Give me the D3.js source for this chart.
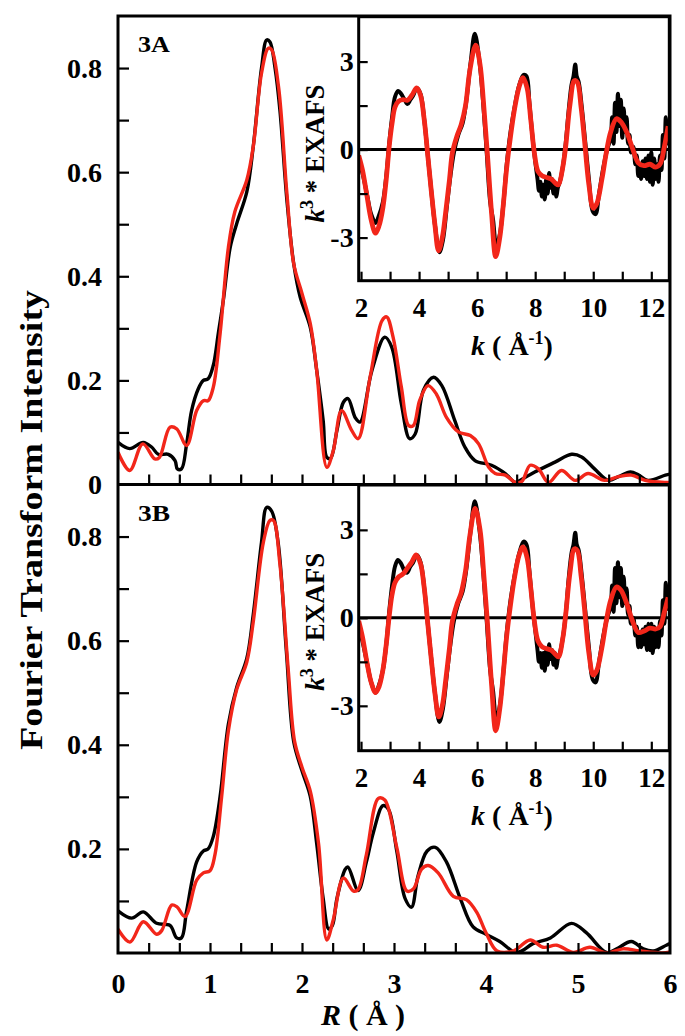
<!DOCTYPE html>
<html><head><meta charset="utf-8">
<script src="https://cdn.jsdelivr.net/npm/d3@7"></script>
<style>
body{margin:0;background:#fff}
</style>
</head><body>
<svg id="c" width="685" height="1036"></svg>
<script>
// ---------- DATA ----------
// Main panels: Fourier transform magnitude vs R (Å)
const ftA_black = [[0,0.081],[0.127,0.069],[0.274,0.081],[0.365,0.072],[0.438,0.058],[0.547,0.058],[0.62,0.046],[0.645,0.03],[0.69,0.03],[0.746,0.078],[0.8,0.142],[0.873,0.184],[0.928,0.2],[0.98,0.203],[1.036,0.229],[1.09,0.29],[1.145,0.354],[1.22,0.456],[1.29,0.501],[1.4,0.562],[1.47,0.649],[1.56,0.8],[1.616,0.854],[1.652,0.85],[1.707,0.8],[1.76,0.719],[1.836,0.546],[1.91,0.424],[1.98,0.36],[2.09,0.302],[2.16,0.219],[2.23,0.123],[2.27,0.052],[2.31,0.05],[2.38,0.104],[2.45,0.158],[2.5,0.165],[2.58,0.128],[2.63,0.12],[2.76,0.219],[2.9,0.283],[2.975,0.264],[3.08,0.155],[3.17,0.088],[3.23,0.097],[3.32,0.181],[3.43,0.206],[3.52,0.19],[3.66,0.123],[3.77,0.072],[3.88,0.046],[4.06,0.037],[4.21,0.021],[4.32,0.004],[4.39,0.01],[4.53,0.024],[4.75,0.043],[4.93,0.058],[5.04,0.053],[5.18,0.03],[5.33,0.008],[5.44,0.015],[5.57,0.024],[5.66,0.018],[5.76,0.008],[5.95,0.018],[6.0,0.02]];
const ftA_red = [[0,0.062],[0.127,0.027],[0.27,0.078],[0.4,0.049],[0.45,0.052],[0.565,0.11],[0.638,0.107],[0.746,0.075],[0.855,0.142],[0.928,0.161],[0.98,0.161],[1.036,0.187],[1.11,0.29],[1.2,0.456],[1.27,0.524],[1.4,0.585],[1.47,0.649],[1.56,0.79],[1.634,0.838],[1.67,0.835],[1.745,0.764],[1.836,0.559],[1.91,0.424],[2.0,0.367],[2.09,0.309],[2.16,0.219],[2.27,0.033],[2.34,0.065],[2.43,0.142],[2.54,0.104],[2.61,0.088],[2.74,0.206],[2.87,0.315],[2.92,0.322],[2.99,0.283],[3.08,0.187],[3.16,0.113],[3.21,0.113],[3.28,0.162],[3.37,0.19],[3.46,0.174],[3.57,0.129],[3.7,0.101],[3.83,0.094],[3.92,0.078],[4.03,0.033],[4.1,0.021],[4.21,0.018],[4.32,0.004],[4.39,0.006],[4.48,0.037],[4.57,0.03],[4.68,0.004],[4.82,0.027],[4.97,0.008],[5.11,0.021],[5.29,0.008],[5.44,0.015],[5.58,0.018],[5.73,0.008],[5.95,0.004],[6.0,0.004]];
const ftB_black = [[0,0.081],[0.148,0.067],[0.275,0.079],[0.42,0.057],[0.565,0.053],[0.638,0.029],[0.69,0.029],[0.746,0.081],[0.855,0.175],[0.928,0.196],[0.98,0.2],[1.036,0.224],[1.11,0.301],[1.2,0.44],[1.29,0.51],[1.4,0.566],[1.47,0.65],[1.56,0.789],[1.616,0.856],[1.67,0.849],[1.74,0.789],[1.83,0.58],[1.91,0.406],[2.0,0.35],[2.09,0.301],[2.16,0.21],[2.23,0.105],[2.29,0.046],[2.33,0.053],[2.38,0.105],[2.47,0.161],[2.5,0.165],[2.61,0.12],[2.7,0.175],[2.775,0.231],[2.88,0.283],[2.94,0.276],[3.03,0.196],[3.12,0.105],[3.19,0.088],[3.26,0.147],[3.36,0.196],[3.45,0.203],[3.57,0.175],[3.72,0.105],[3.86,0.05],[4.0,0.036],[4.15,0.022],[4.32,0.001],[4.39,0.004],[4.51,0.018],[4.7,0.029],[4.93,0.057],[5.09,0.039],[5.31,0.001],[5.42,0.008],[5.58,0.022],[5.71,0.008],[5.82,0.004],[5.96,0.015],[6.0,0.018]];
const ftB_red = [[0,0.046],[0.13,0.021],[0.275,0.06],[0.42,0.036],[0.475,0.043],[0.583,0.092],[0.638,0.089],[0.728,0.07],[0.855,0.14],[0.928,0.154],[1.0,0.158],[1.054,0.189],[1.127,0.301],[1.2,0.427],[1.29,0.506],[1.4,0.559],[1.47,0.636],[1.58,0.789],[1.652,0.831],[1.69,0.831],[1.76,0.747],[1.85,0.545],[1.92,0.406],[2.0,0.357],[2.09,0.311],[2.18,0.21],[2.27,0.025],[2.34,0.064],[2.45,0.144],[2.56,0.119],[2.61,0.122],[2.7,0.189],[2.83,0.297],[2.9,0.294],[3.03,0.203],[3.14,0.119],[3.21,0.123],[3.3,0.161],[3.37,0.168],[3.48,0.154],[3.645,0.109],[3.79,0.102],[3.9,0.078],[4.0,0.039],[4.12,0.004],[4.3,0.004],[4.48,0.025],[4.62,0.011],[4.77,0.015],[4.95,0.001],[5.13,0.011],[5.31,0.0],[5.49,0.008],[5.67,0.004],[5.92,0.0],[6.0,0.002]];

// Insets: k^3-weighted EXAFS vs k (Å^-1)
const exA_black = [[1.92,-0.35],[2.05,-0.8],[2.2,-1.5],[2.35,-2.2],[2.5,-2.5],[2.6,-2.3],[2.75,-1.8],[2.87,-0.9],[2.97,0.2],[3.07,1.1],[3.17,1.8],[3.28,2.0],[3.38,1.9],[3.5,1.7],[3.6,1.55],[3.7,1.7],[3.8,1.85],[3.92,2.1],[4.05,1.9],[4.18,1.0],[4.3,-0.2],[4.42,-1.4],[4.55,-2.6],[4.7,-3.5],[4.82,-3.1],[4.95,-2.0],[5.08,-0.9],[5.2,-0.1],[5.35,0.5],[5.5,0.9],[5.62,1.6],[5.78,3.0],[5.92,3.95],[6.08,3.0],[6.2,1.7],[6.33,-0.1],[6.45,-1.8],[6.55,-2.4],[6.66,-3.3],[6.78,-2.9],[6.9,-1.9],[7.02,-0.5],[7.15,0.6],[7.3,1.5],[7.45,2.2],[7.6,2.55],[7.7,2.5],[7.8,1.6],[7.9,0.5],[8.0,-0.4],[8.08,-1.0],[8.13,-1.4],[8.18,-1.1],[8.23,-1.6],[8.28,-1.2],[8.33,-1.7],[8.38,-1.0],[8.43,-1.5],[8.48,-0.8],[8.53,-1.3],[8.58,-1.0],[8.63,-1.5],[8.68,-1.2],[8.73,-1.6],[8.78,-1.3],[8.85,-1.1],[8.95,-0.6],[9.05,0.2],[9.15,1.3],[9.25,2.2],[9.32,2.5],[9.38,2.9],[9.43,2.5],[9.5,2.3],[9.6,1.5],[9.72,0.3],[9.85,-1.0],[9.98,-2.1],[10.08,-2.2],[10.2,-1.5],[10.35,-0.6],[10.48,0.0],[10.6,0.4],[10.65,1.1],[10.7,0.2],[10.75,1.6],[10.8,0.6],[10.85,1.9],[10.9,0.8],[10.95,1.7],[11.0,0.4],[11.05,1.4],[11.1,0.6],[11.15,1.1],[11.2,0.2],[11.25,0.5],[11.3,-0.1],[11.38,0.1],[11.45,-0.5],[11.5,-0.2],[11.55,-0.9],[11.6,-0.5],[11.65,-1.0],[11.7,-0.4],[11.75,-0.9],[11.8,-0.3],[11.85,-1.0],[11.9,-0.2],[11.95,-1.1],[12.0,-0.1],[12.05,-1.2],[12.1,-0.3],[12.15,-1.0],[12.2,-0.5],[12.25,-1.1],[12.3,-0.2],[12.35,-0.7],[12.4,0.5],[12.45,-0.3],[12.5,1.1],[12.55,0.2],[12.6,0.8]];
const exA_red = [[1.92,-0.2],[2.05,-0.7],[2.2,-1.55],[2.35,-2.4],[2.5,-2.85],[2.62,-2.6],[2.75,-2.0],[2.87,-1.0],[2.97,0.1],[3.07,0.9],[3.17,1.45],[3.3,1.65],[3.45,1.7],[3.6,1.68],[3.75,1.85],[3.92,2.1],[4.05,1.85],[4.18,1.0],[4.3,-0.2],[4.42,-1.4],[4.55,-2.6],[4.67,-3.45],[4.8,-3.0],[4.92,-2.1],[5.05,-1.0],[5.15,-0.1],[5.3,0.45],[5.45,0.85],[5.6,1.5],[5.75,2.7],[5.95,3.56],[6.1,2.9],[6.22,1.6],[6.35,-0.1],[6.5,-2.2],[6.64,-3.65],[6.78,-3.0],[6.9,-1.9],[7.02,-0.6],[7.15,0.45],[7.3,1.45],[7.45,2.15],[7.58,2.45],[7.72,2.1],[7.85,1.0],[7.97,-0.1],[8.1,-0.75],[8.25,-0.9],[8.4,-0.95],[8.55,-1.0],[8.7,-1.15],[8.8,-1.2],[8.95,-0.6],[9.05,0.1],[9.2,1.55],[9.35,2.35],[9.45,2.3],[9.58,1.45],[9.7,0.3],[9.85,-1.2],[10.0,-2.0],[10.12,-1.85],[10.3,-1.0],[10.45,-0.1],[10.6,0.6],[10.8,1.05],[10.95,0.95],[11.15,0.6],[11.35,0.05],[11.55,-0.45],[11.75,-0.55],[11.95,-0.5],[12.15,-0.6],[12.3,-0.5],[12.45,0.1],[12.58,0.8]];
const exB_black = [[1.92,-0.3],[2.05,-0.8],[2.2,-1.5],[2.35,-2.2],[2.5,-2.55],[2.6,-2.35],[2.75,-1.8],[2.87,-0.9],[2.97,0.2],[3.07,1.1],[3.17,1.75],[3.27,1.97],[3.38,1.85],[3.5,1.6],[3.58,1.54],[3.7,1.75],[3.8,1.9],[3.92,2.14],[4.05,1.9],[4.18,1.0],[4.3,-0.2],[4.42,-1.4],[4.55,-2.6],[4.7,-3.55],[4.82,-3.1],[4.95,-2.0],[5.08,-0.9],[5.2,-0.1],[5.35,0.5],[5.5,0.9],[5.62,1.6],[5.78,3.0],[5.92,3.98],[6.08,3.0],[6.2,1.7],[6.33,-0.1],[6.45,-1.8],[6.55,-2.5],[6.66,-3.5],[6.78,-3.0],[6.9,-1.9],[7.02,-0.5],[7.15,0.6],[7.3,1.5],[7.45,2.2],[7.6,2.6],[7.7,2.5],[7.8,1.6],[7.9,0.5],[8.0,-0.4],[8.08,-1.1],[8.13,-1.5],[8.18,-1.2],[8.23,-1.7],[8.28,-1.2],[8.33,-1.8],[8.38,-1.1],[8.43,-1.6],[8.48,-0.9],[8.53,-1.4],[8.58,-1.1],[8.63,-1.6],[8.68,-1.2],[8.73,-1.7],[8.78,-1.4],[8.85,-1.2],[8.95,-0.7],[9.05,0.1],[9.15,1.3],[9.25,2.2],[9.32,2.5],[9.38,2.9],[9.43,2.5],[9.5,2.3],[9.6,1.5],[9.72,0.3],[9.85,-1.0],[9.98,-2.1],[10.08,-2.2],[10.2,-1.5],[10.35,-0.6],[10.48,0.0],[10.6,0.4],[10.65,1.1],[10.7,0.2],[10.75,1.7],[10.8,0.5],[10.85,1.9],[10.9,0.7],[10.95,1.7],[11.0,0.4],[11.05,1.4],[11.1,0.5],[11.15,1.0],[11.2,0.1],[11.25,0.4],[11.3,-0.2],[11.38,0.0],[11.45,-0.6],[11.5,-0.3],[11.55,-1.0],[11.6,-0.5],[11.65,-1.0],[11.7,-0.4],[11.75,-0.9],[11.8,-0.3],[11.85,-1.1],[11.9,-0.2],[11.95,-1.1],[12.0,-0.2],[12.05,-1.2],[12.1,-0.3],[12.15,-1.0],[12.2,-0.4],[12.25,-1.0],[12.3,-0.1],[12.35,-0.6],[12.4,0.6],[12.45,-0.2],[12.5,1.2],[12.55,0.3],[12.6,0.7]];
const exB_red = [[1.92,-0.1],[2.05,-0.65],[2.2,-1.5],[2.35,-2.2],[2.5,-2.55],[2.62,-2.35],[2.75,-1.8],[2.87,-0.9],[2.97,0.05],[3.07,0.8],[3.17,1.2],[3.3,1.4],[3.45,1.5],[3.6,1.7],[3.75,1.9],[3.9,2.15],[4.05,1.85],[4.18,1.0],[4.3,-0.2],[4.42,-1.4],[4.55,-2.6],[4.68,-3.38],[4.8,-3.0],[4.92,-2.1],[5.05,-1.0],[5.15,-0.1],[5.3,0.45],[5.45,0.85],[5.6,1.6],[5.75,2.8],[5.93,3.73],[6.1,3.0],[6.22,1.6],[6.35,-0.1],[6.5,-2.3],[6.64,-3.85],[6.78,-3.1],[6.9,-1.9],[7.02,-0.6],[7.15,0.45],[7.3,1.45],[7.45,2.15],[7.58,2.42],[7.72,2.05],[7.85,1.0],[7.97,-0.1],[8.1,-0.8],[8.25,-1.0],[8.4,-1.05],[8.55,-1.1],[8.7,-1.25],[8.8,-1.33],[8.95,-0.7],[9.05,0.1],[9.2,1.55],[9.35,2.35],[9.45,2.3],[9.58,1.45],[9.7,0.3],[9.85,-1.2],[10.0,-1.95],[10.12,-1.8],[10.3,-1.0],[10.45,-0.1],[10.6,0.6],[10.8,1.05],[10.95,0.95],[11.15,0.5],[11.35,-0.1],[11.55,-0.5],[11.75,-0.45],[11.95,-0.35],[12.15,-0.38],[12.3,-0.3],[12.45,0.2],[12.58,0.7]];

// Tick values / labels
const mainYTicks = [0.1,0.2,0.3,0.4,0.5,0.6,0.7,0.8];
const mainYLabelsA = [0,0.2,0.4,0.6,0.8];
const mainYLabelsB = [0.2,0.4,0.6,0.8];
const mainXTicks = [1,2,3,4,5,6,7,8,9,10,11,12,13,14,15,16,17].map(i => i/3);
const mainXLabels = [0,1,2,3,4,5,6];
const insetYTicks = [-3,-1.5,0,1.5,3];
const insetYLabels = [-3,0,3];
const insetXTicks = [2,3,4,5,6,7,8,9,10,11,12];
const insetXLabels = [2,4,6,8,10,12];
const panelNames = ["3A","3B"];

// ---------- LAYOUT ----------
const FONT = "'Liberation Serif', 'Times New Roman', serif";
const RED = "#f2261a";
const svg = d3.select("#c");
const L = 118, R = 670;
const x = d3.scaleLinear([0,6],[L,R]);
const panels = [
  {top:16, bottom:484.5, ft:[ftA_black, ftA_red], ex:[exA_black, exA_red], yLabels:mainYLabelsA,
   inset:{top:16.7, bottom:280.7, dom:[-4.47,4.53]}},
  {top:484.5, bottom:953, ft:[ftB_black, ftB_red], ex:[exB_black, exB_red], yLabels:mainYLabelsB,
   inset:{top:485, bottom:750.7, dom:[-4.53,4.53]}}
];
const insL = 358.7, insR = 669.3;
const kx = d3.scaleLinear([1.92,12.62],[insL,insR]);

function styleText(sel, size) {
  sel.attr("font-family", FONT).attr("font-weight", "bold").attr("font-size", size).attr("fill", "#000");
  return sel;
}
function cleanAxis(g, size) {
  g.attr("font-family", null).attr("font-size", null);
  g.select(".domain").remove();
  if (size) styleText(g.selectAll("text"), size);
  g.selectAll("line").attr("stroke", "#000").attr("stroke-width", 2.2);
  return g;
}

panels.forEach((p, i) => {
  const y = d3.scaleLinear([0,0.9],[p.bottom,p.top]);
  const cid = "clipm"+i;
  svg.append("clipPath").attr("id",cid).append("rect")
    .attr("x",L).attr("y",p.top).attr("width",R-L).attr("height",p.bottom-p.top);
  const g = svg.append("g").attr("clip-path",`url(#${cid})`);
  const line = d3.line().x(d=>x(d[0])).y(d=>y(d[1])).curve(d3.curveCatmullRom.alpha(0.5));
  g.append("path").datum(p.ft[0]).attr("d",line).attr("fill","none").attr("stroke","#000").attr("stroke-width",3.4).attr("stroke-linejoin","round");
  g.append("path").datum(p.ft[1]).attr("d",line).attr("fill","none").attr("stroke",RED).attr("stroke-width",3.4).attr("stroke-linejoin","round");

  cleanAxis(svg.append("g").attr("transform",`translate(${L},0)`)
    .call(d3.axisLeft(y).tickValues(mainYTicks).tickSizeInner(-11).tickSizeOuter(0).tickFormat("")));
  cleanAxis(svg.append("g").attr("transform",`translate(${L},0)`)
    .call(d3.axisLeft(y).tickValues(p.yLabels).tickSize(0).tickPadding(16).tickFormat(d => d===0 ? "0" : d3.format(".1f")(d))), 28);
  cleanAxis(svg.append("g").attr("transform",`translate(0,${p.bottom})`)
    .call(d3.axisBottom(x).tickValues(mainXTicks).tickSizeInner(-10).tickSizeOuter(0).tickFormat("")));

  styleText(svg.append("text").attr("x",138).attr("y",p.top+36)
    .attr("textLength",32).attr("lengthAdjust","spacingAndGlyphs"), 23).text(panelNames[i]);

  // ---- inset ----
  const I = p.inset;
  const iy = d3.scaleLinear(I.dom,[I.bottom,I.top]);
  svg.append("rect").attr("x",insL).attr("y",I.top).attr("width",insR-insL).attr("height",I.bottom-I.top).attr("fill","#fff");
  const icid = "clipi"+i;
  svg.append("clipPath").attr("id",icid).append("rect")
    .attr("x",insL).attr("y",I.top).attr("width",insR-insL).attr("height",I.bottom-I.top);
  const ig = svg.append("g").attr("clip-path",`url(#${icid})`);
  ig.append("line").attr("x1",insL).attr("x2",insR).attr("y1",iy(0)).attr("y2",iy(0)).attr("stroke","#000").attr("stroke-width",3);
  const iline = d3.line().x(d=>kx(d[0])).y(d=>iy(d[1])).curve(d3.curveCatmullRom.alpha(0.5));
  ig.append("path").datum(p.ex[0]).attr("d",iline).attr("fill","none").attr("stroke","#000").attr("stroke-width",4).attr("stroke-linejoin","round");
  ig.append("path").datum(p.ex[1]).attr("d",iline).attr("fill","none").attr("stroke",RED).attr("stroke-width",4.8).attr("stroke-linejoin","round");
  svg.append("rect").attr("x",insL).attr("y",I.top).attr("width",insR-insL).attr("height",I.bottom-I.top)
    .attr("fill","none").attr("stroke","#000").attr("stroke-width",3);

  cleanAxis(svg.append("g").attr("transform",`translate(${insL},0)`)
    .call(d3.axisLeft(iy).tickValues(insetYTicks).tickSizeInner(-9).tickSizeOuter(0).tickFormat("")));
  cleanAxis(svg.append("g").attr("transform",`translate(${insL},0)`)
    .call(d3.axisLeft(iy).tickValues(insetYLabels).tickSize(0).tickPadding(5).tickFormat(d => String(d))), 28);
  cleanAxis(svg.append("g").attr("transform",`translate(0,${I.bottom})`)
    .call(d3.axisBottom(kx).tickValues(insetXTicks).tickSizeInner(-9).tickSizeOuter(0).tickFormat("")));
  cleanAxis(svg.append("g").attr("transform",`translate(0,${I.bottom})`)
    .call(d3.axisBottom(kx).tickValues(insetXLabels).tickSize(0).tickPadding(17).tickFormat(d => String(d))), 27);

  const kt = styleText(svg.append("text").attr("x",512).attr("y",I.bottom+74).attr("text-anchor","middle"), 28);
  kt.append("tspan").attr("font-style","italic").text("k");
  kt.append("tspan").text(" ( Å");
  kt.append("tspan").attr("font-size",18).attr("dy",-11).text("-1");
  kt.append("tspan").attr("dy",11).text(")");

  const yt = styleText(svg.append("text").attr("transform",`translate(324,${iy(0)+4}) rotate(-90)`).attr("text-anchor","middle"), 27);
  yt.append("tspan").attr("font-style","italic").text("k");
  yt.append("tspan").attr("font-size",18).attr("dy",-11).text("3");
  yt.append("tspan").attr("dy",11).text(" * EXAFS");
});

// Outer frame and divider
svg.append("rect").attr("x",L).attr("y",16).attr("width",R-L).attr("height",953-16)
  .attr("fill","none").attr("stroke","#000").attr("stroke-width",3);
svg.append("line").attr("x1",L).attr("x2",R).attr("y1",484.5).attr("y2",484.5).attr("stroke","#000").attr("stroke-width",3);

cleanAxis(svg.append("g").attr("transform",`translate(0,953)`)
  .call(d3.axisBottom(x).tickValues(mainXLabels).tickSize(0).tickPadding(20).tickFormat(d => String(d))), 28);

const xt = styleText(svg.append("text").attr("x",363).attr("y",1025).attr("text-anchor","middle"), 30);
xt.append("tspan").attr("font-style","italic").text("R");
xt.append("tspan").text(" ( Å )");

styleText(svg.append("text").attr("transform","translate(42,520) rotate(-90)").attr("text-anchor","middle")
  .attr("textLength",460).attr("lengthAdjust","spacingAndGlyphs"), 32)
  .text("Fourier Transform Intensity");
</script>
</body></html>
